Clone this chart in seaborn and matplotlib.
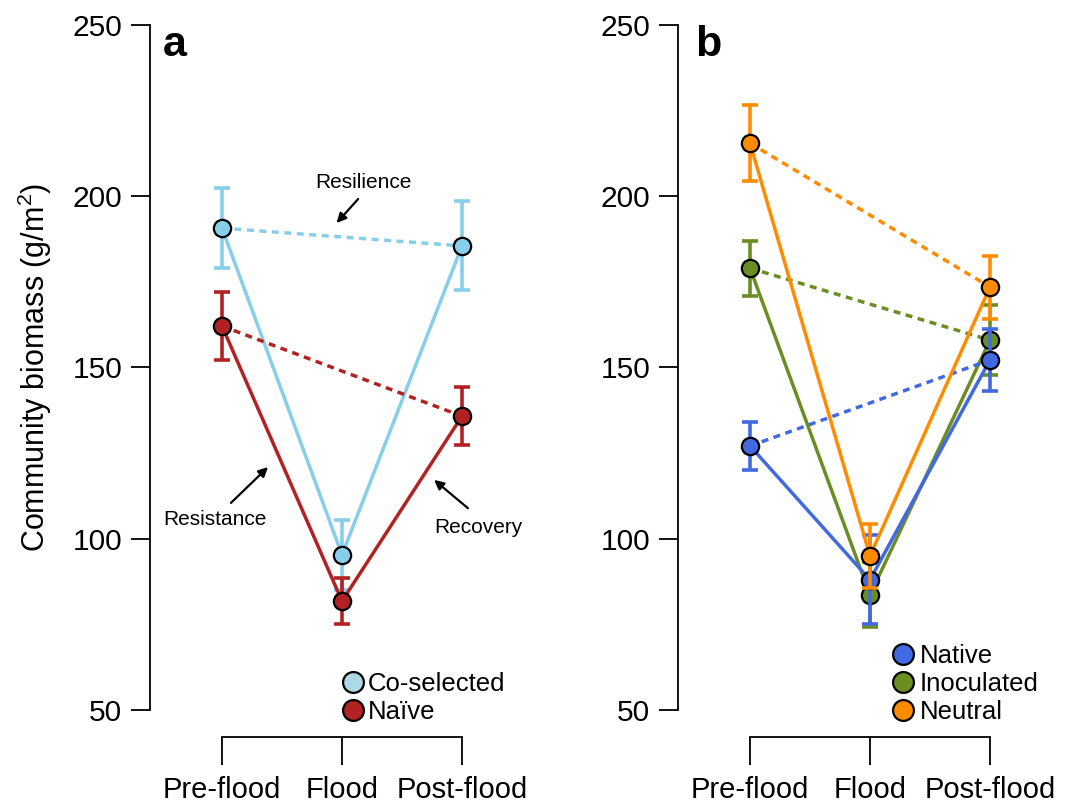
import pandas as pd
import seaborn as sns
import matplotlib.pyplot as plt
from matplotlib.lines import Line2D

# data
stages = ["Pre-flood", "Flood", "Post-flood"]

coselected_mean = [190.7, 95.3, 185.5]
coselected_err = [11.7, 10.2, 13.0]
naive_mean = [162.1, 81.8, 135.8]
naive_err = [10.0, 6.8, 8.4]

native_mean = [127.1, 88.0, 152.2]
native_err = [7.0, 13.0, 9.0]
inoculated_mean = [179.0, 83.6, 158.0]
inoculated_err = [8.0, 9.5, 10.3]
neutral_mean = [215.5, 95.0, 173.5]
neutral_err = [11.0, 9.3, 9.2]

y_ticks = [50, 100, 150, 200, 250]

panel_a = [("Co-selected", coselected_mean, coselected_err, "#87CEEB"),
           ("Naïve", naive_mean, naive_err, "#B22222")]
panel_b = [("Inoculated", inoculated_mean, inoculated_err, "#6B8E23"),
           ("Native", native_mean, native_err, "#4169E1"),
           ("Neutral", neutral_mean, neutral_err, "#FF8C00")]
legend_b_order = ["Native", "Inoculated", "Neutral"]

sns.set_style("ticks")
plt.rcParams["font.family"] = ["Liberation Sans", "DejaVu Sans"]
plt.rcParams["mathtext.default"] = "regular"
for key in ["text.color", "axes.labelcolor", "xtick.color", "ytick.color",
            "axes.edgecolor"]:
    plt.rcParams[key] = "black"

fig = plt.figure(figsize=(10.7, 8.07), dpi=100)
W, H = 1070, 807
ax_a = fig.add_axes([150 / W, 70 / H, 384 / W, 712 / H])
ax_b = fig.add_axes([678 / W, 70 / H, 384 / W, 712 / H])


def draw_panel(ax, groups, legend_order):
    x = list(range(len(stages)))
    rows = []
    for name, mean, err, color in groups:
        for i, st in enumerate(stages):
            rows.append({"group": name, "pos": i, "biomass": mean[i], "err": err[i]})
    df = pd.DataFrame(rows)
    palette = {name: color for name, _, _, color in groups}

    for k, (name, mean, err, color) in enumerate(groups):
        z = 2 + k * 3
        sub = df[df["group"] == name]
        ax.errorbar(sub["pos"], sub["biomass"], yerr=sub["err"], fmt="none",
                    ecolor=color, elinewidth=2.6, capsize=6, capthick=2.6,
                    zorder=z, clip_on=False)
        # pre -> post dashed
        ax.plot([x[0], x[2]], [mean[0], mean[2]], color=color, lw=2.5,
                ls=(0, (2, 1.6)), zorder=z, clip_on=False)
        sns.lineplot(data=sub, x="pos", y="biomass", color=color, lw=2.5,
                     ax=ax, legend=False, zorder=z + 1, sort=False)
        sns.scatterplot(data=sub, x="pos", y="biomass", color=color, s=155,
                        edgecolor="black", linewidth=1.6, ax=ax, legend=False,
                        zorder=z + 2, clip_on=False)

    ax.set_xlim(-0.6, 2.6)
    ax.set_ylim(250 - 712 / 3.425, 250)
    ax.set_yticks(y_ticks)
    ax.set_xticks(x)
    ax.set_xticklabels(stages)
    ax.set_xlabel("")
    ax.set_ylabel("")
    for s in ["top", "right"]:
        ax.spines[s].set_visible(False)
    ax.spines["left"].set_bounds(50, 250)
    ax.spines["bottom"].set_bounds(0, 2)
    ax.spines["left"].set_linewidth(1.3)
    ax.spines["bottom"].set_linewidth(1.3)
    ax.tick_params(axis="y", length=14, width=1.3, pad=6, labelsize=21.5)
    ax.tick_params(axis="x", length=20, width=1.3, pad=8, labelsize=21)

    handles = []
    for name in legend_order:
        color = palette[name]
        if name == "Co-selected":
            color = "#ADD8E6"
        handles.append(Line2D([], [], marker="o", ls="none", markersize=15,
                              markerfacecolor=color, markeredgecolor="black",
                              markeredgewidth=1.6, label=name))
    return handles


h_a = draw_panel(ax_a, panel_a, ["Co-selected", "Naïve"])
h_b = draw_panel(ax_b, panel_b, legend_b_order)

ax_a.legend(handles=h_a, loc="lower left", bbox_to_anchor=(0.498, 0.018),
            frameon=False, fontsize=18.5, handlelength=0.9, handletextpad=0.12,
            labelspacing=0.15, borderpad=0, borderaxespad=0)
ax_b.legend(handles=h_b, loc="lower left", bbox_to_anchor=(0.556, 0.018),
            frameon=False, fontsize=18.5, handlelength=0.9, handletextpad=0.2,
            labelspacing=0.15, borderpad=0, borderaxespad=0)

# annotations on panel a
arrow = dict(arrowstyle="-|>", color="black", lw=1.6, mutation_scale=14)
ax_a.annotate("", xy=(0.94, 191.6), xytext=(1.15, 199.8), arrowprops=arrow)
ax_a.text(1.175, 204.0, "Resilience", fontsize=15, ha="center", va="center")
ax_a.annotate("", xy=(0.40, 121.5), xytext=(0.058, 109.9), arrowprops=arrow)
ax_a.text(-0.058, 105.6, "Resistance", fontsize=15, ha="center", va="center")
ax_a.annotate("", xy=(1.75, 117.7), xytext=(2.067, 108.4), arrowprops=arrow)
ax_a.text(2.133, 103.2, "Recovery", fontsize=15, ha="center", va="center")

fig.text(175 / W, 1 - 45 / H, "a", fontsize=31, fontweight="bold",
         ha="center", va="center")
fig.text(708 / W, 1 - 45 / H, "b", fontsize=31, fontweight="bold",
         ha="center", va="center")
fig.text(35 / W, 1 - 367 / H, "Community biomass (g/m$^2$)", fontsize=22,
         rotation=90, ha="center", va="center")

fig.savefig("out.png", dpi=100)
